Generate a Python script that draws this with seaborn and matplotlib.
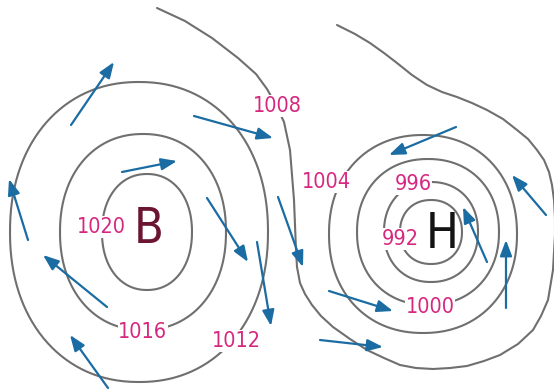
import numpy as np
import pandas as pd
import matplotlib
matplotlib.use("Agg")
import matplotlib.pyplot as plt
import seaborn as sns

# ---- data (pixel space, y downwards) ----
# closed isobars (ovals)
ring_values = [1020, 1016, 1012, 992, 996, 1000, 1004]
ring_cx = [147, 143, 139, 431, 431, 428, 423]
ring_cy = [232, 232, 232, 232, 232, 232, 234]
ring_rx = [45, 83, 129, 31, 47, 71, 94]
ring_ry = [58, 98, 150, 32, 50, 73, 99]

# open isobar 1008 (runs between the two systems and round the low)
isobar_1008_x = [337, 355, 370, 384, 397, 412, 427, 442, 457, 472, 487, 503, 517,
                 528, 537, 544, 549, 552, 554, 555, 555, 553, 548, 541,
                 533, 518, 500, 484, 467, 450, 433, 416, 400, 384, 367, 350, 333,
                 321, 312, 305, 300, 297, 296, 295, 294, 292, 290, 287, 284,
                 276, 267, 256, 238, 212, 185, 157]
isobar_1008_y = [25, 34, 43, 53, 63, 75, 85, 92, 97, 103, 110, 119, 130,
                 139, 150, 160, 172, 185, 200, 218, 235, 270, 300, 316,
                 330, 344, 355, 361, 366, 368, 369, 368, 365, 358, 350, 339, 327,
                 316, 305, 294, 283, 267, 250, 225, 200, 175, 150, 136, 122,
                 105, 89, 74, 58, 38, 21, 8]

# isobar labels
label_text = ["1008", "1020", "1016", "1012", "1004", "996", "992", "1000"]
label_x = [277, 101, 143, 236, 326, 413, 400, 430]
label_y = [112, 233, 338, 347, 188, 190, 245, 313]

# pressure centres
centre_text = ["B", "H"]
centre_x = [149, 442]
centre_y = [243, 248]
centre_color = ["#6b1533", "#141414"]

# wind arrows: tail -> head
arrow_x0 = [71, 194, 122, 28, 107, 108, 207, 257, 278, 456, 546, 487, 506, 329, 320]
arrow_y0 = [125, 116, 172, 240, 307, 388, 198, 242, 197, 127, 215, 262, 308, 291, 340]
arrow_x1 = [114, 273, 177, 9, 43, 70, 248, 271, 303, 389, 512, 463, 506, 393, 383]
arrow_y1 = [62, 138, 161, 179, 255, 335, 262, 326, 267, 155, 175, 207, 240, 311, 347]

# ---- figure ----
sns.set_theme(style="white")
plt.rcParams["font.family"] = ["DejaVu Sans"]

fig = plt.figure(figsize=(5.54, 3.92), dpi=100)
ax = fig.add_axes([0, 0, 1, 1])

line_grey = "#6f6f6f"
arrow_blue = "#1a6ca3"
label_pink = "#d6287f"

# closed isobars
t = np.linspace(0, 2 * np.pi, 400)
n = 2.15
frames = []
for v, cx, cy, rx, ry in zip(ring_values, ring_cx, ring_cy, ring_rx, ring_ry):
    c, s = np.cos(t), np.sin(t)
    xs = cx + rx * np.sign(c) * np.abs(c) ** (2 / n)
    ys = cy + ry * np.sign(s) * np.abs(s) ** (2 / n)
    frames.append(pd.DataFrame({"x": xs, "y": ys, "isobar": v, "step": np.arange(len(t))}))
rings = pd.concat(frames, ignore_index=True)
sns.lineplot(data=rings, x="x", y="y", units="isobar", estimator=None, sort=False,
             color=line_grey, lw=1.5, ax=ax, legend=False)

open_df = pd.DataFrame({"x": isobar_1008_x, "y": isobar_1008_y})
sns.lineplot(data=open_df, x="x", y="y", sort=False, estimator=None,
             color=line_grey, lw=1.5, ax=ax, legend=False)

# wind arrows
for x0, y0, x1, y1 in zip(arrow_x0, arrow_y0, arrow_x1, arrow_y1):
    ax.annotate("", xy=(x1, y1), xytext=(x0, y0),
                arrowprops=dict(arrowstyle="-|>,head_length=0.95,head_width=0.36",
                                mutation_scale=10, color=arrow_blue, lw=1.6,
                                shrinkA=0, shrinkB=0), zorder=4)

# labels
for s, x, y in zip(label_text, label_x, label_y):
    ax.text(x, y, s, ha="center", va="baseline", fontsize=15.5, color=label_pink,
            fontstretch="condensed",
            bbox=dict(facecolor="white", edgecolor="none", pad=0.6), zorder=5)

for s, x, y, c in zip(centre_text, centre_x, centre_y, centre_color):
    ax.text(x, y, s, ha="center", va="baseline", fontsize=35, color=c,
            fontstretch="condensed", zorder=6)

ax.set_xlim(0, 554)
ax.set_ylim(392, 0)
ax.set_axis_off()
fig.savefig("out.png", dpi=100, facecolor="white")
